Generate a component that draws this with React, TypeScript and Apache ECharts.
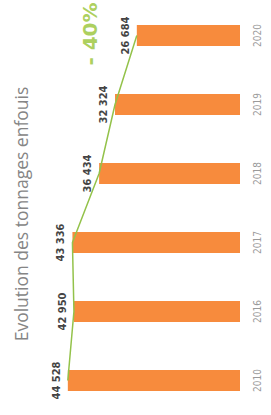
import React, { useEffect, useRef } from "react";
import * as echarts from "echarts";

const years = ["2010", "2016", "2017", "2018", "2019", "2020"];
const tonnages = [44528, 42950, 43336, 36434, 32324, 26684];
const valueLabels = ["44 528", "42 950", "43 336", "36 434", "32 324", "26 684"];
const title = "Evolution des tonnages enfouis";
const changeLabel = "- 40%";

export default function App() {
  const ref = useRef<HTMLDivElement>(null);
  useEffect(() => {
    if (!ref.current) return;
    const chart = echarts.init(ref.current, undefined, { renderer: "svg" });
    chart.setOption({
      animation: false,
      backgroundColor: "#ffffff",
      grid: { left: 8, right: 31, top: 1, height: 416 },
      xAxis: {
        type: "value",
        min: 0,
        max: 60000,
        inverse: true,
        show: false,
      },
      yAxis: {
        type: "category",
        data: years,
        position: "right",
        axisLine: { show: false },
        axisTick: { show: false },
        splitLine: { show: false },
        axisLabel: {
          rotate: 90,
          margin: 12,
          color: "#9a9a9a",
          fontSize: 10,
          fontFamily: "DejaVu Sans Condensed, DejaVu Sans",
        },
      },
      graphic: [
        {
          type: "text",
          x: 21,
          y: 214,
          rotation: Math.PI / 2,
          style: {
            text: title,
            fill: "#858585",
            font: "17.5px 'Open Sans'",
            align: "center",
            verticalAlign: "middle",
          },
        },
        {
          type: "text",
          x: 90,
          y: 34,
          rotation: Math.PI / 2,
          style: {
            text: changeLabel,
            fill: "#add05f",
            font: "bold 20px 'DejaVu Sans'",
            align: "center",
            verticalAlign: "middle",
          },
        },
      ],
      series: [
        {
          type: "bar",
          data: tonnages,
          barWidth: 21,
          itemStyle: { color: "#f78b3d" },
          label: {
            show: true,
            position: "left",
            distance: 6,
            rotate: 90,
            align: "center",
            verticalAlign: "bottom",
            color: "#444444",
            fontSize: 11,
            fontWeight: "bold",
            fontFamily: "DejaVu Sans Condensed, DejaVu Sans",
            formatter: (p: any) => valueLabels[p.dataIndex],
          },
        },
        {
          type: "line",
          data: tonnages,
          symbol: "none",
          z: 5,
          lineStyle: { color: "#93c24a", width: 1.5 },
        },
      ],
    });
    return () => chart.dispose();
  }, []);
  return <div ref={ref} style={{ width: 271, height: 415, position: "absolute", left: 0, top: 0 }} />;
}
